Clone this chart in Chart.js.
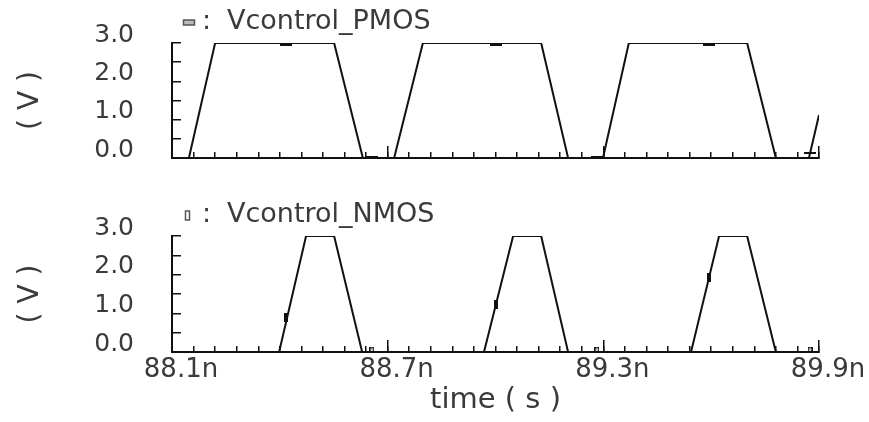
<!DOCTYPE html>
<html><head><meta charset="utf-8">
<script src="https://cdn.jsdelivr.net/npm/chart.js@4/dist/chart.umd.min.js"></script>
<style>
html,body{margin:0;padding:0;background:#fff;}
#wrap{position:relative;width:869px;height:422px;overflow:hidden;background:#fff;}
#c1{position:absolute;left:0;top:0;}
#c2{position:absolute;left:0;top:180px;}
</style></head><body>
<div id="wrap"><canvas id="c1" width="869" height="180"></canvas><canvas id="c2" width="869" height="242"></canvas></div>
<script>
// ---- data (time in ns, voltage in V) ----
const xMin = 88.1, xMax = 89.9;
const xMajorTicks = [88.1, 88.7, 89.3, 89.9];
const xTickLabels = ['88.1n', '88.7n', '89.3n', '89.9n'];
const xMinorStep = 0.06;
const yMin = 0, yMax = 3.0, yStep = 0.5;

const pmosName = 'Vcontrol_PMOS';
const pmosTime = [88.1, 88.147, 88.220, 88.551, 88.631, 88.718, 88.798, 89.127, 89.202, 89.299, 89.371, 89.700, 89.780, 89.872, 89.9];
const pmosVolt = [0, 0, 3.0, 3.0, 0, 0, 3.0, 3.0, 0, 0, 3.0, 3.0, 0, 0, 1.12];

const nmosName = 'Vcontrol_NMOS';
const nmosTime = [88.1, 88.398, 88.473, 88.551, 88.629, 88.968, 89.049, 89.127, 89.202, 89.544, 89.622, 89.700, 89.780, 89.9];
const nmosVolt = [0, 0, 3.0, 3.0, 0, 0, 3.0, 3.0, 0, 0, 3.0, 3.0, 0, 0];

const markerTime = [88.417, 88.656, 89.001, 89.282, 89.594, 89.875];
const pmosMarkerVolt = [3.0, 0, 3.0, 0, 3.0, 0.13];
const nmosMarkerVolt = [0.9, 0, 1.24, 0, 1.93, 0];

// ---- styling ----
const TEXT = '#3a3a3a', INK = '#111';
const FAM = "'DejaVu Sans', sans-serif";

const minorTicks = [];
for (let i = 0; i <= Math.round((xMax - xMin) / xMinorStep); i++) minorTicks.push(+(xMin + i * xMinorStep).toFixed(4));

function pts(xs, ys) { return xs.map((x, i) => ({x: x, y: ys[i]})); }

function rectImg(w, h, filled) {
  const c = document.createElement('canvas');
  c.width = w; c.height = h;
  const g = c.getContext('2d');
  g.fillStyle = INK; g.strokeStyle = INK; g.lineWidth = 1.5;
  if (filled) g.fillRect(0, 0, w, h); else g.strokeRect(0.75, 0.75, w - 1.5, h - 1.5);
  return c;
}
const nFilled = rectImg(4, 9, true), nOpen = rectImg(5, 11, false);
const pThick = rectImg(12, 5, true), pThin = rectImg(12, 2, true);

function titlePlugin(name, horiz) {
  return { id: 'panelTitle', afterDraw(chart) {
    const ctx = chart.ctx, a = chart.chartArea;
    const y = a.top - 21;
    ctx.save();
    ctx.strokeStyle = '#555'; ctx.lineWidth = 1.5; ctx.fillStyle = '#bbb';
    if (horiz) { ctx.fillRect(a.left + 11.5, y - 2, 11, 5); ctx.strokeRect(a.left + 11.5, y - 2, 11, 5); }
    else ctx.strokeRect(a.left + 13.5, y - 4, 4, 9);
    ctx.fillStyle = TEXT; ctx.font = "27px " + FAM;
    ctx.textBaseline = 'middle'; ctx.textAlign = 'left';
    ctx.fillText(':', a.left + 30, y);
    ctx.fillText(name, a.left + 55, y);
    ctx.restore();
  }};
}

function scales(showX, xHeight) {
  return {
    x: {
      type: 'linear', min: xMin, max: xMax, position: 'bottom',
      afterBuildTicks: s => { s.ticks = minorTicks.map(v => ({value: v})); },
      afterFit: s => { s.height = xHeight; s.paddingLeft = 0; s.paddingRight = 0; },
      ticks: {
        display: showX, autoSkip: false, maxRotation: 0, minRotation: 0,
        padding: 9, labelOffset: 9, color: TEXT, font: {family: FAM, size: 26},
        callback: v => { const i = xMajorTicks.findIndex(m => Math.abs(m - v) < 1e-6); return i >= 0 ? xTickLabels[i] : ''; }
      },
      grid: {drawOnChartArea: false, tickLength: -6, color: INK, lineWidth: 1.5},
      border: {display: true, color: INK, width: 2},
      title: {display: showX, text: 'time ( s )', color: TEXT, font: {family: FAM, size: 29}, padding: {top: 0, bottom: 4}}
    },
    xMaj: {
      type: 'linear', min: xMin, max: xMax, position: {y: 0},
      afterBuildTicks: s => { s.ticks = xMajorTicks.map(v => ({value: v})); },
      afterFit: s => { s.height = 0; s.paddingLeft = 0; s.paddingRight = 0; },
      ticks: {display: false},
      grid: {drawOnChartArea: false, tickLength: -12, color: INK, lineWidth: 1.5},
      border: {display: false}
    },
    y: {
      type: 'linear', min: yMin, max: yMax,
      afterFit: s => { s.width = 172; s.paddingTop = 0; s.paddingBottom = 0; },
      ticks: {
        stepSize: yStep, autoSkip: false, padding: 47, labelOffset: -8, color: TEXT,
        font: {family: FAM, size: 25},
        callback: v => Number.isInteger(v) ? v.toFixed(1) : ''
      },
      grid: {drawOnChartArea: false, tickLength: -9, color: INK, lineWidth: 1.5},
      border: {display: true, color: INK, width: 2},
      title: {display: true, text: '( V )', color: TEXT, font: {family: FAM, size: 28}, padding: {top: 14, bottom: 0}}
    }
  };
}

function baseOptions(padTop, showX, xHeight) {
  return {
    responsive: false, animation: false, devicePixelRatio: 1,
    layout: {padding: {top: padTop, right: 50, bottom: 0, left: 0}},
    plugins: {legend: {display: false}, tooltip: {enabled: false}, title: {display: false}},
    scales: scales(showX, xHeight)
  };
}

new Chart(document.getElementById('c1'), {
  type: 'line',
  data: { datasets: [
    { data: pts(pmosTime, pmosVolt), xAxisID: 'x', yAxisID: 'y', borderColor: INK, borderWidth: 2, pointRadius: 0, tension: 0, fill: false },
    { data: pts(markerTime, pmosMarkerVolt), xAxisID: 'x', yAxisID: 'y', showLine: false,
      pointRadius: 6, borderColor: INK, backgroundColor: INK,
      pointStyle: c => (c.dataIndex === markerTime.length - 1 ? pThin : pThick) }
  ]},
  options: baseOptions(43, false, 22),
  plugins: [titlePlugin(pmosName, true)]
});

new Chart(document.getElementById('c2'), {
  type: 'line',
  data: { datasets: [
    { data: pts(nmosTime, nmosVolt), xAxisID: 'x', yAxisID: 'y', borderColor: INK, borderWidth: 2, pointRadius: 0, tension: 0, fill: false },
    { data: pts(markerTime, nmosMarkerVolt), xAxisID: 'x', yAxisID: 'y', showLine: false,
      pointRadius: 5, borderColor: INK, backgroundColor: INK,
      pointStyle: c => (nmosMarkerVolt[c.dataIndex] > 0 ? nFilled : nOpen) }
  ]},
  options: baseOptions(56, true, 70),
  plugins: [titlePlugin(nmosName, false)]
});
</script>
</body></html>
